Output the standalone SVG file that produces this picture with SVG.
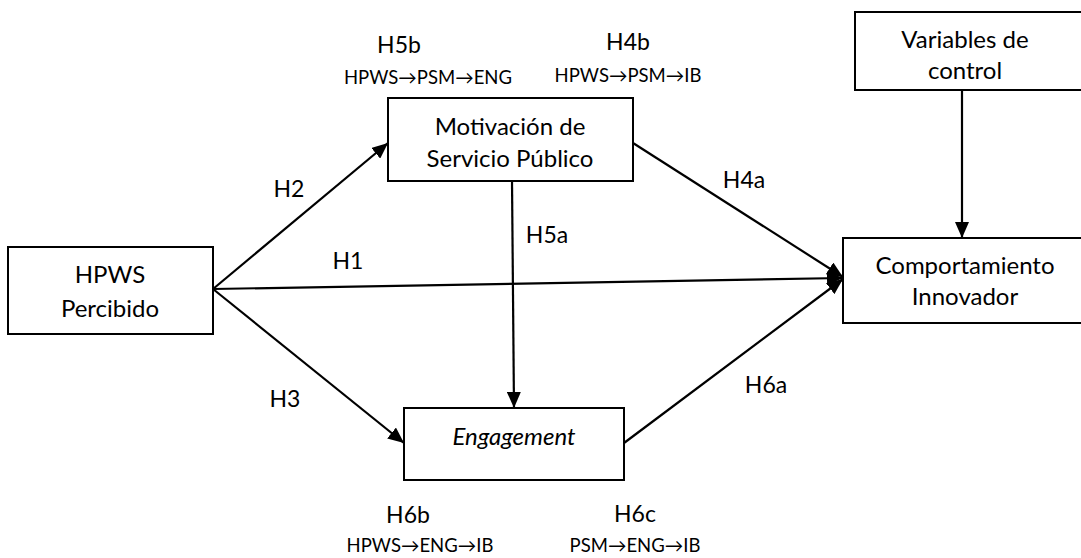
<svg xmlns="http://www.w3.org/2000/svg" width="1081" height="558" viewBox="0 0 1081 558">
<style>
.box{fill:#fff;stroke:#000;stroke-width:2}
.t{font-family:Lato,"Liberation Sans",sans-serif;font-size:24px;fill:#000;text-anchor:middle}
.l{font-family:Lato,"Liberation Sans",sans-serif;font-size:23px;fill:#000;text-anchor:middle}
.s{font-family:Lato,"Liberation Sans",sans-serif;font-size:18.5px;fill:#000;text-anchor:middle}
.c{fill:none;stroke:#000;stroke-width:2.2}
</style>
<defs>
<marker id="ah" markerUnits="userSpaceOnUse" markerWidth="18" markerHeight="14" refX="16" refY="7" orient="auto">
<path d="M0,0 L16,7 L0,14 Z" fill="#000"/>
</marker>
</defs>
<g id="connectors">
<line class="c" x1="213" y1="289" x2="388" y2="143" marker-end="url(#ah)"/>
<line class="c" x1="213" y1="289" x2="404" y2="443" marker-end="url(#ah)"/>
<line class="c" x1="213" y1="289" x2="843" y2="278" marker-end="url(#ah)"/>
<line class="c" x1="633" y1="143" x2="843" y2="277" marker-end="url(#ah)"/>
<line class="c" x1="624" y1="443" x2="843" y2="279" marker-end="url(#ah)"/>
<line class="c" x1="512" y1="181" x2="514" y2="408" marker-end="url(#ah)"/>
<line class="c" x1="962" y1="90" x2="962" y2="238" marker-end="url(#ah)"/>
</g>
<g id="hpws">
<rect class="box" x="8" y="247" width="205" height="87"/>
<text class="t" x="110" y="283">HPWS</text>
<text class="t" x="110" y="317">Percibido</text>
</g>
<g id="psm">
<rect class="box" x="388" y="98" width="245" height="83"/>
<text class="t" x="510" y="135">Motivación de</text>
<text class="t" x="510" y="167">Servicio Público</text>
</g>
<g id="eng">
<rect class="box" x="404" y="408" width="220" height="72"/>
<text class="t" x="514" y="445" font-style="italic">Engagement</text>
</g>
<g id="ib">
<rect class="box" x="843" y="238" width="245" height="85"/>
<text class="t" x="965" y="274">Comportamiento</text>
<text class="t" x="965" y="305">Innovador</text>
</g>
<g id="control">
<rect class="box" x="855" y="12" width="233" height="78"/>
<text class="t" x="965" y="48">Variables de</text>
<text class="t" x="965" y="79">control</text>
</g>
<g id="labels">
<text class="l" x="399" y="53">H5b</text>
<text class="s" x="428" y="84">HPWS→PSM→ENG</text>
<text class="l" x="628" y="50">H4b</text>
<text class="s" x="628" y="82">HPWS→PSM→IB</text>
<text class="l" x="289" y="197">H2</text>
<text class="l" x="348" y="269">H1</text>
<text class="l" x="285" y="407">H3</text>
<text class="l" x="547" y="243">H5a</text>
<text class="l" x="744" y="188">H4a</text>
<text class="l" x="766" y="393">H6a</text>
<text class="l" x="408" y="523">H6b</text>
<text class="s" x="420" y="552">HPWS→ENG→IB</text>
<text class="l" x="635" y="522">H6c</text>
<text class="s" x="635" y="552">PSM→ENG→IB</text>
</g>
</svg>
